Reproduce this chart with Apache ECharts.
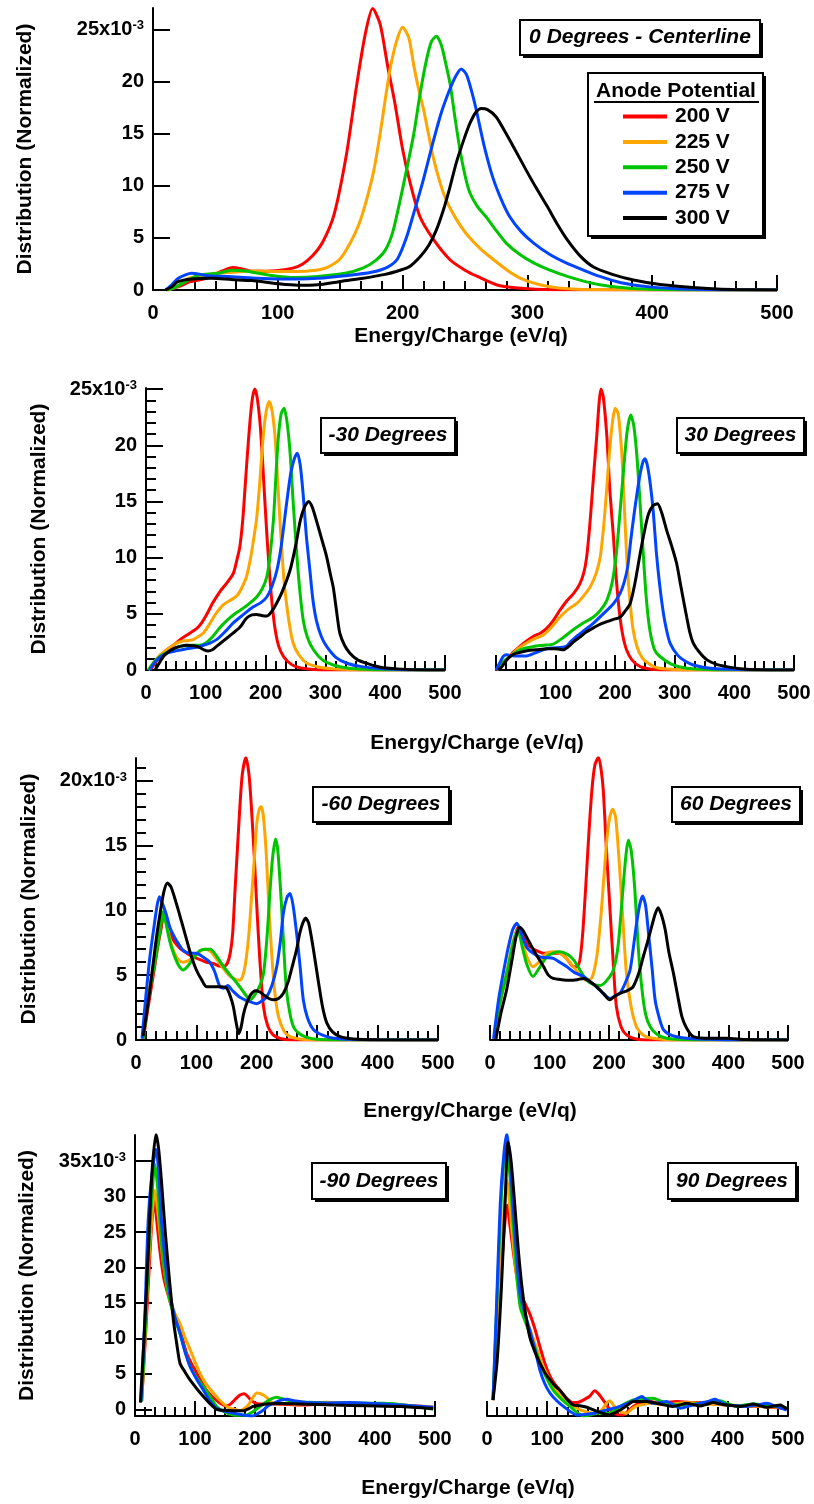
<!DOCTYPE html>
<html><head><meta charset="utf-8">
<script src="https://cdn.jsdelivr.net/npm/echarts@6/dist/echarts.min.js"></script>
<style>html,body{margin:0;padding:0;background:#fff}#c{width:814px;height:1504px}</style>
</head><body><div id="c"></div>
<script>
const seriesNames = ['200 V','225 V','250 V','275 V','300 V'];
const colors = ['#ff0000','#ffa500','#00c400','#0044ff','#000000'];
const panelTitles = ['0 Degrees - Centerline','-30 Degrees','30 Degrees','-60 Degrees','60 Degrees','-90 Degrees','90 Degrees'];
const xTickValues = [0,100,200,300,400,500];
const yTitle = 'Distribution (Normalized)';
const xTitle = 'Energy/Charge (eV/q)';
const legendTitle = 'Anode Potential';

// ---- 0 degrees (centerline) ----
const d0_200 = [[11,0],[20,0.3],[30,0.8],[42,1.1],[55,1.8],[64,2.15],[72,2.0],[80,1.8],[98,1.85],[112,2.1],[120,2.5],[128,3.3],[136,4.6],[145,7.2],[155,13],[163,19.5],[170,24.5],[176,27.0],[182,25.5],[188,21.5],[194,17.8],[200,13.5],[206,10.3],[214,7.0],[225,4.8],[238,2.9],[250,1.9],[260,1.3],[278,0.4],[300,0.12],[330,0.02],[500,0]];
const d0_225 = [[12,0],[20,0.4],[28,1.1],[40,1.4],[50,1.6],[63,1.7],[80,1.82],[100,1.78],[114,1.78],[130,1.9],[140,2.2],[150,3.0],[158,4.5],[165,6.3],[171,8.6],[177,11.5],[182,15],[186,18.2],[190,21.2],[195,23.8],[200,25.2],[205,24.2],[209,21.5],[213,19.2],[217,17.2],[221,14.8],[225,12.5],[230,10.3],[235,8.6],[243,6.8],[251,5.4],[262,4.0],[273,2.9],[285,1.8],[295,1.1],[310,0.5],[325,0.2],[345,0.05],[500,0]];
const d0_250 = [[12,0],[20,0.4],[26,0.8],[36,1.4],[52,1.6],[63,1.9],[74,1.82],[95,1.4],[114,1.2],[132,1.3],[154,1.6],[168,2.1],[178,2.8],[186,3.8],[192,5.5],[198,8.6],[204,12],[209,15],[214,18.8],[219,22],[223,23.8],[227,24.35],[231,23.5],[235,21.5],[238,19.8],[242,16.5],[246,13.4],[250,11],[254,9.3],[260,8],[267,7.0],[275,5.7],[283,4.5],[294,3.4],[305,2.6],[318,1.9],[332,1.3],[345,0.85],[358,0.5],[375,0.25],[398,0.07],[430,0],[500,0]];
const d0_275 = [[10,0],[15,0.5],[20,1.1],[26,1.45],[31,1.6],[38,1.5],[44,1.37],[63,1.28],[84,1.12],[100,1.06],[116,1.06],[132,1.12],[154,1.37],[175,1.7],[188,2.2],[196,3.0],[203,5.0],[209,7.4],[216,10.3],[224,14],[231,17],[238,19.3],[243,20.6],[247,21.2],[251,20.7],[255,19.2],[259,17.3],[265,14],[272,10.9],[279,8.7],[286,7.0],[295,5.6],[305,4.5],[318,3.4],[331,2.6],[345,1.9],[358,1.3],[375,0.7],[398,0.3],[420,0.12],[440,0.05],[470,0],[500,0]];
const d0_300 = [[10,0],[15,0.3],[20,0.8],[31,1.06],[47,1.12],[63,1.0],[79,0.9],[100,0.6],[116,0.45],[132,0.5],[149,0.8],[167,1.1],[186,1.5],[198,1.9],[205,2.2],[214,3.2],[221,4.3],[227,5.75],[233,7.8],[238,9.9],[243,12.2],[249,14.4],[254,16.0],[259,17.1],[263,17.4],[268,17.3],[275,16.6],[282,15.2],[289,13.7],[299,11.5],[307,9.8],[316,8.0],[324,6.3],[332,4.8],[342,3.3],[353,2.2],[368,1.5],[385,0.96],[405,0.55],[425,0.32],[445,0.15],[465,0.05],[500,0]];

// ---- -30 degrees ----
const m30_200 = [[7,0],[15,0.6],[23,1.2],[35,1.8],[46,2.2],[57,2.7],[68,3.1],[85,3.7],[93,4.2],[101,4.9],[112,6.0],[124,7.0],[136,7.8],[146,8.6],[152,9.8],[157,11],[162,13.5],[166,16.5],[170,19.5],[174,22.2],[178,24.2],[182,25.0],[186,24.2],[191,21.8],[195,18.5],[199,14.8],[203,11.3],[207,8.3],[211,5.8],[216,3.6],[222,2.1],[230,1.2],[243,0.5],[257,0.2],[285,0.02],[300,0],[500,0]];
const m30_225 = [[4,0],[12,0.6],[23,1.3],[37,1.9],[51,2.4],[65,2.6],[79,2.7],[88,3.0],[96,3.3],[104,3.9],[113,4.7],[121,5.3],[129,5.8],[141,6.2],[152,6.6],[160,7.3],[168,8.3],[175,10],[181,12],[185,13.5],[190,16.5],[196,20.8],[201,23.0],[206,23.9],[211,23.0],[216,20.6],[220,17],[224,13.3],[228,10],[231,7.8],[235,5.9],[240,4.0],[246,2.4],[255,1.4],[269,0.6],[290,0.25],[313,0.1],[340,0.03],[360,0],[500,0]];
const m30_250 = [[4,0],[12,0.6],[23,1.2],[40,1.7],[57,2.1],[75,2.2],[90,2.2],[100,2.4],[112,3.0],[124,3.8],[135,4.4],[146,4.9],[157,5.3],[170,5.8],[185,6.5],[195,7.3],[202,8.3],[207,10],[213,13.3],[217,17],[221,20.5],[226,22.8],[231,23.3],[236,22],[241,19.3],[246,15],[252,10.4],[257,7.2],[263,4.4],[270,2.9],[280,1.8],[295,0.9],[313,0.45],[340,0.15],[369,0.06],[400,0],[500,0]];
const m30_275 = [[6,0],[15,0.7],[25,1.2],[35,1.5],[50,1.7],[68,1.9],[82,2.0],[96,2.2],[107,2.4],[118,2.7],[132,3.4],[146,4.2],[162,4.9],[179,5.6],[192,6.0],[202,6.5],[211,7.5],[219,8.9],[226,11],[235,14.8],[242,17.5],[248,18.8],[253,19.3],[258,18.2],[263,15.5],[268,12],[274,8.9],[279,6.3],[285,4.4],[293,3.0],[302,2.1],[318,1.1],[336,0.6],[360,0.3],[397,0.1],[430,0.03],[460,0],[500,0]];
const m30_300 = [[15,0],[22,0.6],[29,1.2],[37,1.6],[46,1.9],[57,2.1],[68,2.2],[80,2.15],[90,2.0],[97,1.8],[104,1.7],[111,1.8],[118,2.1],[132,2.7],[146,3.3],[157,3.8],[168,4.6],[177,4.9],[185,4.95],[193,4.85],[202,4.8],[210,5.2],[218,5.9],[228,7.0],[241,8.9],[250,11],[258,13.3],[265,14.5],[272,15.0],[278,14.5],[285,13.3],[293,11.8],[302,10.1],[308,8.6],[313,7.4],[318,5.5],[324,3.3],[332,2.2],[341,1.5],[354,0.9],[369,0.6],[383,0.35],[397,0.2],[420,0.1],[453,0.02],[500,0]];

// ---- 30 degrees ----
const p30_200 = [[0,0],[8,0.3],[18,0.9],[29,1.6],[40,2.1],[52,2.6],[63,3.0],[75,3.3],[85,3.7],[96,4.4],[107,5.3],[118,6.1],[130,6.8],[140,7.6],[147,8.6],[152,10],[158,13.3],[164,17.5],[169,20.8],[173,23.8],[176,25.0],[180,24.3],[186,20.8],[191,16],[197,11.9],[202,8],[208,4.7],[213,3.0],[219,1.8],[228,0.9],[242,0.3],[265,0.05],[300,0],[500,0]];
const p30_225 = [[1,0],[10,0.6],[23,1.2],[37,1.9],[51,2.4],[65,2.8],[79,3.1],[93,3.8],[107,4.7],[121,5.4],[135,5.9],[147,6.6],[158,7.4],[168,8.6],[175,10.1],[181,13],[186,16.3],[191,19.8],[196,22.3],[200,23.3],[205,22.8],[211,19.3],[215,15],[219,10.4],[224,6.6],[230,3.6],[237,2.0],[245,1.1],[253,0.7],[270,0.2],[297,0.05],[330,0],[500,0]];
const p30_250 = [[1,0],[10,0.6],[23,1.2],[40,1.8],[63,2.1],[80,2.2],[96,2.3],[113,2.9],[130,3.6],[147,4.2],[163,4.7],[175,5.3],[186,6.2],[195,7.8],[202,10.4],[208,14],[214,17.8],[220,21.2],[226,22.7],[231,21.8],[236,19.3],[241,15.5],[247,10.4],[252,6.5],[258,3.6],[266,1.8],[275,1.2],[295,0.5],[320,0.15],[360,0.03],[400,0],[500,0]];
const p30_275 = [[0,0],[6,0.6],[12,1.2],[18,1.35],[24,1.3],[35,1.25],[51,1.25],[65,1.5],[79,1.8],[93,1.95],[107,2.0],[118,2.1],[125,2.5],[135,3.0],[150,3.6],[163,4.15],[180,5.0],[197,5.9],[208,6.8],[215,7.8],[221,9.2],[226,11.5],[231,13.6],[236,15.5],[242,17.5],[247,18.6],[250,18.8],[254,18.2],[259,16.5],[264,14],[269,10.5],[275,7.4],[281,5.0],[286,3.6],[292,2.4],[305,1.3],[317,0.8],[331,0.45],[360,0.15],[398,0.06],[430,0],[500,0]];
const p30_300 = [[4,0],[10,0.3],[18,0.9],[26,1.3],[35,1.5],[50,1.7],[68,1.8],[85,1.9],[96,1.9],[106,1.85],[113,1.8],[122,2.1],[130,2.5],[140,2.9],[152,3.4],[165,3.8],[176,4.1],[186,4.3],[197,4.5],[208,4.7],[216,5.2],[225,5.9],[233,7.7],[242,10.4],[250,12.6],[256,13.9],[263,14.6],[271,14.8],[278,14.0],[286,12.5],[295,11],[303,9.5],[310,7.5],[316,5.8],[320,4.7],[325,3.4],[331,2.4],[341,1.6],[354,0.9],[370,0.5],[387,0.3],[410,0.12],[443,0.02],[500,0]];

// ---- -60 degrees ----
const m60_200 = [[12,0.1],[20,2.5],[29,5.1],[36,7.2],[42,8.7],[46,9.8],[50,9.3],[56,8.3],[62,7.7],[72,7.1],[84,6.7],[95,6.4],[106,6.2],[117,6.0],[128,5.9],[138,5.7],[145,5.65],[151,5.9],[156,6.7],[160,8.2],[164,11.6],[168,14.8],[172,18],[176,20.5],[182,21.8],[187,20.5],[191,18],[196,14],[200,10.3],[205,6.2],[211,2.6],[218,1.1],[227,0.4],[240,0.1],[260,0],[500,0]];
const m60_225 = [[12,0.1],[22,3.8],[31,6.4],[38,8.5],[45,9.9],[50,9.1],[56,7.8],[62,6.9],[70,6.2],[78,6.0],[86,6.1],[95,6.4],[105,6.8],[114,7.0],[124,6.8],[134,6.2],[145,5.5],[156,4.9],[164,4.7],[172,4.6],[179,5.3],[186,7.7],[191,10.8],[196,14],[200,16.7],[204,17.8],[207,18.0],[211,17.2],[216,14.1],[220,10.2],[225,6.4],[230,3.6],[236,1.8],[245,0.7],[255,0.26],[275,0.05],[300,0],[500,0]];
const m60_250 = [[12,0.1],[22,3.6],[34,6.7],[40,8.5],[45,9.9],[50,8.9],[56,7.6],[62,6.7],[70,5.8],[78,5.4],[84,5.6],[89,5.9],[98,6.5],[106,6.9],[115,7.0],[123,7.0],[133,6.5],[145,5.65],[156,5.0],[167,4.4],[178,3.7],[189,3.1],[197,3.5],[205,4.2],[211,5.1],[217,8],[222,11.6],[226,14],[231,15.5],[235,14.5],[241,10.3],[245,6.8],[249,3.9],[255,2.0],[261,1.0],[270,0.5],[283,0.2],[300,0.05],[330,0],[500,0]];
const m60_275 = [[10,0.1],[16,3.2],[23,6.4],[30,8.8],[35,10.4],[39,11.05],[44,10.5],[50,9.7],[56,8.7],[64,7.9],[72,7.3],[78,6.9],[89,6.7],[100,6.7],[111,6.4],[122,6.0],[130,5.3],[139,4.1],[145,4.0],[152,4.2],[160,3.8],[172,3.3],[186,3.0],[200,2.8],[208,3.0],[216,3.3],[225,4.2],[233,5.65],[239,7.6],[244,9.8],[250,11.0],[255,11.3],[260,10.4],[266,8.2],[272,5.5],[277,3.1],[284,1.7],[294,0.8],[310,0.35],[327,0.13],[360,0.03],[400,0],[500,0]];
const m60_300 = [[12,0.3],[18,2.2],[23,3.9],[30,6.5],[35,8.3],[40,9.8],[46,11.4],[52,12.1],[58,11.8],[67,10.5],[75,9.2],[84,7.7],[92,6.4],[100,5.4],[108,4.7],[117,4.1],[125,4.1],[134,4.1],[142,4.1],[150,4.0],[156,3.4],[161,2.6],[166,1.3],[170,0.5],[174,1.0],[178,2.0],[183,2.8],[190,3.5],[198,3.8],[205,3.7],[211,3.5],[220,3.2],[227,3.1],[236,3.2],[244,3.6],[252,4.5],[260,5.9],[266,7.0],[271,8.2],[276,9.0],[281,9.4],[286,9.0],[293,7.2],[299,5.4],[305,3.6],[310,2.3],[316,1.3],[325,0.65],[338,0.26],[360,0.08],[400,0.02],[500,0]];

// ---- 60 degrees ----
const p60_200 = [[8,0.1],[15,2.5],[22,4.0],[28,5.1],[35,6.5],[42,8.0],[47,8.7],[53,8.3],[60,7.6],[67,7.2],[78,6.9],[89,6.7],[100,6.7],[117,6.7],[130,6.2],[140,5.65],[147,5.7],[151,6.2],[156,8.5],[162,12.9],[166,16],[171,19.3],[176,21.2],[182,21.8],[186,21],[190,19.3],[195,15],[201,10.3],[207,5.8],[212,2.6],[220,1.0],[229,0.4],[245,0.08],[270,0],[500,0]];
const p60_225 = [[8,0.1],[15,2.5],[28,5.1],[38,7.5],[47,8.5],[54,7.6],[62,6.4],[72,5.65],[82,6.0],[95,6.7],[105,6.8],[117,6.7],[130,6.2],[140,5.65],[151,5.0],[162,4.6],[171,4.8],[179,6.4],[186,9.5],[191,12.5],[196,15.4],[201,17.2],[206,17.8],[211,17.1],[218,12.9],[224,8.5],[229,5.1],[237,2.5],[246,1.0],[258,0.35],[274,0.13],[300,0.02],[330,0],[500,0]];
const p60_250 = [[8,0.1],[15,2.5],[28,5.1],[38,7.3],[47,8.5],[54,7.2],[62,5.8],[72,4.9],[82,5.5],[95,6.4],[106,6.7],[117,6.8],[130,6.6],[140,6.2],[151,5.4],[162,4.6],[173,4.3],[185,4.2],[196,4.6],[207,5.4],[215,7.3],[223,11.6],[228,14.2],[232,15.4],[237,14.6],[243,11.6],[249,7.0],[255,3.9],[261,2.0],[269,1.0],[280,0.45],[296,0.13],[330,0.02],[360,0],[500,0]];
const p60_275 = [[6,0.1],[14,3.0],[22,5.1],[30,7.0],[38,8.5],[45,9.0],[52,8.3],[61,7.2],[72,6.7],[84,6.4],[95,6.35],[106,6.3],[117,6.0],[129,5.65],[142,5.2],[157,4.9],[168,4.5],[179,4.1],[190,3.6],[201,3.2],[210,3.4],[218,3.6],[226,4.3],[235,5.4],[241,7.3],[246,9.0],[251,10.4],[256,11.1],[261,10.4],[266,8.2],[272,5.5],[277,3.1],[284,1.7],[291,0.8],[305,0.35],[330,0.13],[370,0.05],[400,0],[500,0]];
const p60_300 = [[10,0.1],[18,2.0],[28,3.9],[37,6.2],[44,8.0],[50,8.7],[56,8.4],[63,7.8],[70,7.2],[80,6.4],[90,5.65],[98,5.0],[106,4.75],[120,4.65],[134,4.6],[146,4.65],[157,4.75],[168,4.5],[179,4.1],[190,3.6],[201,3.1],[210,3.4],[218,3.6],[230,3.8],[240,4.1],[250,5.2],[257,6.4],[264,7.5],[271,8.7],[277,9.7],[282,10.2],[288,9.6],[294,8.5],[300,6.8],[308,5.1],[315,3.4],[322,1.8],[330,0.9],[341,0.26],[369,0.13],[397,0.13],[430,0.03],[500,0]];

// ---- -90 degrees ----
const m90_200 = [[11,1.1],[16,8],[22,17.3],[27,25],[32,29.5],[37,26],[42,22],[48,18.5],[56,15.9],[63,14],[70,12.6],[78,10.3],[86,7.9],[95,6.3],[103,5.1],[111,3.8],[119,2.7],[130,1.7],[142,0.85],[153,0.47],[160,0.8],[167,1.4],[175,2.0],[182,2.2],[188,1.8],[193,1.3],[200,0.9],[208,0.75],[236,0.75],[275,0.6],[330,0.85],[386,0.75],[442,0.6],[497,0.3]];
const m90_225 = [[11,1.1],[16,9],[22,19.6],[28,27],[33,30.9],[38,28],[44,22.9],[51,18.5],[58,15.4],[66,13.6],[75,12.1],[83,10.2],[92,8.4],[100,6.7],[108,5.1],[119,3.5],[131,2.25],[142,1.2],[153,0.4],[165,0],[175,-0.2],[182,0.1],[189,0.6],[196,1.6],[203,2.3],[208,2.25],[214,2.0],[220,1.6],[226,1.1],[231,0.85],[250,0.8],[275,0.75],[319,1.0],[350,0.85],[386,0.75],[442,0.55],[497,0.3]];
const m90_250 = [[11,1.1],[17,11],[24,24.3],[29,31],[33,34.6],[38,31],[44,23.4],[51,18.5],[58,15.4],[66,12.8],[75,10.7],[83,8.3],[92,6.0],[103,4.4],[114,3.2],[125,1.8],[136,0.4],[150,-0.4],[164,-0.8],[176,-0.85],[186,-0.8],[197,-0.3],[208,0.4],[218,1.0],[228,1.5],[236,1.7],[245,1.5],[264,1.1],[300,0.95],[331,0.85],[370,0.85],[414,0.85],[460,0.5],[497,0.0]];
const m90_275 = [[10,1.1],[16,12],[22,26.7],[28,33],[35,36.7],[40,33],[44,26.7],[51,20.5],[58,16.3],[66,13.2],[75,10.7],[83,8.2],[92,6.0],[103,4.2],[114,2.7],[125,1.2],[136,0.14],[150,-0.3],[164,-0.56],[180,-0.8],[197,-0.94],[205,-0.6],[214,-0.1],[222,0.5],[231,0.85],[242,1.25],[253,1.4],[265,1.2],[286,0.94],[320,0.9],[358,0.94],[400,0.8],[442,0.6],[497,0.3]];
const m90_300 = [[9,0.94],[15,10],[22,22],[28,33],[35,38.8],[39,37],[44,32.3],[50,25.5],[56,19.6],[64,12.6],[70,9],[75,6.5],[83,5.3],[92,4.1],[103,2.9],[114,1.8],[125,0.8],[136,0],[150,-0.15],[164,-0.2],[181,-0.2],[190,0.1],[197,0.4],[208,0.6],[219,0.75],[245,0.8],[275,0.75],[331,0.6],[386,0.5],[442,0.4],[497,0.1]];

// ---- 90 degrees ----
const p90_200 = [[10,1.3],[17,10],[24,19.6],[30,26.5],[34,28.8],[38,26],[44,22],[50,18.5],[58,15.9],[65,14.6],[71,13.5],[79,11.5],[88,8.8],[96,6.5],[105,4.6],[113,3.5],[121,2.7],[132,1.6],[143,0.94],[152,1.0],[160,1.3],[170,1.8],[179,2.6],[186,2.1],[193,1.3],[202,0.2],[210,-0.56],[226,-0.8],[235,-0.2],[243,0.4],[254,0.9],[265,1.2],[287,0.85],[300,1.0],[315,1.1],[343,0.94],[370,0.85],[398,0.6],[426,0.47],[454,0.4],[498,0.14]];
const p90_225 = [[10,1.3],[17,11],[24,22],[29,29],[33,32.3],[38,28.5],[44,22.9],[51,17.5],[58,14.5],[66,12.5],[74,10.7],[83,8.5],[91,6.5],[100,4.8],[110,3.2],[121,2.0],[132,1.1],[143,0.5],[155,-0.1],[166,-0.4],[177,-0.56],[187,-0.3],[193,0.14],[199,0.9],[204,1.2],[209,0.7],[215,0],[224,-0.4],[232,-0.56],[240,0],[249,0.47],[260,0.7],[271,0.85],[298,0.6],[315,0.8],[332,0.94],[365,0.75],[398,0.6],[442,0.47],[498,0.2]];
const p90_250 = [[10,1.3],[16,14],[22,26.7],[27,34],[32,37],[37,34],[43,26.7],[49,19.5],[55,14.5],[63,12.5],[71,10.7],[80,8.6],[88,6.5],[99,4.4],[110,2.7],[124,1.4],[138,0.4],[150,-0.5],[160,-0.94],[171,-0.8],[182,-0.56],[193,-0.56],[204,-0.56],[212,-0.1],[221,0.4],[232,0.9],[243,1.3],[260,1.5],[276,1.55],[287,1.2],[298,0.85],[310,0.7],[321,0.6],[337,0.7],[354,0.85],[370,1.0],[387,1.2],[400,0.8],[415,0.4],[428,0.6],[442,0.75],[470,0.5],[498,0.2]];
const p90_275 = [[10,1.3],[16,15],[22,29],[28,36],[33,38.9],[38,35.5],[43,29],[49,22],[55,16.3],[63,13.5],[71,11.2],[80,8.3],[88,5.5],[96,3.6],[105,2.25],[116,1.2],[127,0.4],[138,-0.3],[149,-0.8],[163,-0.75],[177,-0.56],[199,-0.1],[221,0.4],[232,0.8],[243,1.2],[250,1.55],[257,1.8],[265,1.3],[276,0.85],[287,0.95],[298,1.1],[310,0.6],[321,0.14],[337,0.5],[354,0.85],[367,1.1],[379,1.4],[388,1.0],[398,0.6],[415,0.5],[431,0.4],[448,0.6],[465,0.85],[480,0.4],[498,-0.1]];
const p90_300 = [[10,1.3],[17,7],[24,17.3],[30,29],[35,37.7],[40,35],[46,29],[52,22.5],[58,17.3],[64,13.5],[71,10.2],[80,8.0],[88,6.5],[96,5.2],[105,4.1],[113,3.3],[121,2.7],[132,1.5],[143,0.6],[154,0.5],[166,0.28],[177,-0.1],[188,-0.47],[204,-0.8],[212,-0.5],[221,-0.1],[232,0.5],[243,1.1],[265,1.1],[287,0.75],[298,0.55],[309,0.4],[320,0.6],[332,0.85],[343,0.65],[354,0.47],[365,0.7],[376,0.94],[387,0.75],[398,0.6],[409,0.5],[420,0.4],[431,0.55],[442,0.75],[453,0.5],[465,0.28],[476,0.45],[487,0.6],[498,0]];

const panelData = [
  [d0_200, d0_225, d0_250, d0_275, d0_300],
  [m30_200, m30_225, m30_250, m30_275, m30_300],
  [p30_200, p30_225, p30_250, p30_275, p30_300],
  [m60_200, m60_225, m60_250, m60_275, m60_300],
  [p60_200, p60_225, p60_250, p60_275, p60_300],
  [m90_200, m90_225, m90_250, m90_275, m90_300],
  [p90_200, p90_225, p90_250, p90_275, p90_300]
];

// ---- layout (positions / styles) ----
const FONT = '"Liberation Sans", Arial, sans-serif';
const layout = [
  {left:153, top:8,    width:624, height:282, ymin:0,     ymax:27.05, yTop:25, yShow:true,  minorY:false, nameGap:117, hide0:false},
  {left:146, top:388,  width:299, height:282, ymin:0,     ymax:25.1,  yTop:25, yShow:true,  minorY:true,  nameGap:96,  hide0:false},
  {left:496, top:388,  width:298, height:282, ymin:0,     ymax:25.1,  yShow:false, hide0:true},
  {left:136, top:758,  width:302, height:282, ymin:0,     ymax:21.75, yTop:20, yShow:true,  minorY:true,  nameGap:96,  hide0:false},
  {left:490, top:758,  width:298, height:282, ymin:0,     ymax:21.75, yShow:false, hide0:false},
  {left:135, top:1135, width:300, height:281, ymin:-0.95, ymax:38.7,  yTop:35, yShow:true,  minorY:false, nameGap:97,  hide0:false},
  {left:487, top:1135, width:301, height:281, ymin:-0.95, ymax:38.7,  yShow:false, hide0:false}
];
const boxes = [[520,20,240,35],[321,418,134,35],[677,418,127,35],[313,787,136,35],[672,787,128,35],[312,1163,134,36],[668,1163,128,36]];
const xTitlePos = [[461,336],[477,743],[470,1111],[468,1488]];

const grids = [], xAxes = [], yAxes = [], series = [];
const axisLineStyle = {color:'#000', width:2};
layout.forEach((L, p) => {
  grids.push({left:L.left, top:L.top, width:L.width, height:L.height, containLabel:false});
  xAxes.push({
    type:'value', gridIndex:p, min:0, max:500, interval:100,
    axisLine:{show:true, onZero:false, lineStyle:axisLineStyle},
    axisTick:{show:true, inside:true, length:15, lineStyle:axisLineStyle},
    minorTick:{show:true, splitNumber:6, length:9, lineStyle:axisLineStyle},
    axisLabel:{show:true, margin:13, fontSize:20, fontWeight:'bold', color:'#000', fontFamily:FONT,
      formatter: v => (L.hide0 && v === 0) ? '' : String(v)},
    splitLine:{show:false}
  });
  const yIdx = yAxes.length;
  if (L.yShow) {
    const tv = [];
    for (let v = 0; v <= L.yTop; v += 5) tv.push(v);
    yAxes.push({
      type:'value', gridIndex:p, min:L.ymin, max:L.ymax, position:'left',
      axisLine:{show:true, onZero:false, lineStyle:axisLineStyle},
      axisTick:{show:true, inside:true, length:17, lineStyle:axisLineStyle, customValues:tv},
      axisLabel:{show:true, margin:9, customValues:tv,
        formatter: v => v === L.yTop ? '{m|' + v + 'x10}{e|-3}' : '{m|' + v + '}',
        rich:{
          m:{fontSize:20, fontWeight:'bold', color:'#000', fontFamily:FONT, lineHeight:20, verticalAlign:'bottom'},
          e:{fontSize:13, fontWeight:'bold', color:'#000', fontFamily:FONT, lineHeight:13, verticalAlign:'top', padding:[0,0,11,0]}
        }},
      splitLine:{show:false},
      name: yTitle, nameLocation:'middle', nameGap:L.nameGap,
      nameTextStyle:{fontSize:21, fontWeight:'bold', color:'#000', fontFamily:FONT}
    });
    if (L.minorY) {
      const mv = [];
      for (let v = 1; v <= Math.floor(L.ymax); v++) if (v % 5) mv.push(v);
      yAxes.push({
        type:'value', gridIndex:p, min:L.ymin, max:L.ymax, position:'left', offset:0,
        axisLine:{show:false}, axisLabel:{show:false}, splitLine:{show:false},
        axisTick:{show:true, inside:true, length:10, lineStyle:axisLineStyle, customValues:mv}
      });
    }
  } else {
    yAxes.push({type:'value', gridIndex:p, min:L.ymin, max:L.ymax, show:false, splitLine:{show:false}});
  }
  panelData[p].forEach((d, s) => {
    series.push({
      type:'line', name:seriesNames[s], xAxisIndex:p, yAxisIndex:yIdx, data:d,
      showSymbol:false, symbol:'none', smooth:0.25, silent:true, z:2+s,
      lineStyle:{width:3, color:colors[s]}, itemStyle:{color:colors[s]}
    });
  });
});

const graphic = [];
boxes.forEach((b, i) => {
  graphic.push({type:'rect', z:100, shape:{x:b[0]+3, y:b[1]+3, width:b[2], height:b[3]}, style:{fill:'#000'}});
  graphic.push({type:'rect', z:101, shape:{x:b[0], y:b[1], width:b[2], height:b[3]}, style:{fill:'#fff', stroke:'#000', lineWidth:2}});
  graphic.push({type:'text', z:102, x:b[0]+b[2]/2, y:b[1]+b[3]/2,
    style:{text:panelTitles[i], fill:'#000', font:'italic bold 21px ' + FONT, textAlign:'center', textVerticalAlign:'middle'}});
});
// legend box
graphic.push({type:'rect', z:100, shape:{x:591, y:76, width:175, height:163}, style:{fill:'#000'}});
graphic.push({type:'rect', z:101, shape:{x:588, y:73, width:175, height:163}, style:{fill:'#fff', stroke:'#000', lineWidth:2}});
graphic.push({type:'text', z:102, x:676, y:91, style:{text:legendTitle, fill:'#000', font:'bold 21px ' + FONT, textAlign:'center', textVerticalAlign:'middle'}});
graphic.push({type:'line', z:102, shape:{x1:594, y1:102, x2:759, y2:102}, style:{stroke:'#000', lineWidth:2}});
xTitlePos.forEach(pt => {
  graphic.push({type:'text', z:102, x:pt[0], y:pt[1], style:{text:xTitle, fill:'#000', font:'bold 21px ' + FONT, textAlign:'center', textVerticalAlign:'middle'}});
});

const chart = echarts.init(document.getElementById('c'), null, {renderer:'canvas'});
chart.setOption({
  animation:false,
  backgroundColor:'#fff',
  grid:grids, xAxis:xAxes, yAxis:yAxes, series:series,
  legend:{
    data:seriesNames, orient:'vertical', left:623, top:106, padding:0,
    itemWidth:44, itemHeight:4, itemGap:4.4, icon:'rect', selectedMode:false, z:110,
    textStyle:{fontSize:21, fontWeight:'bold', color:'#000', fontFamily:FONT, lineHeight:21, padding:[0,0,0,3]}
  },
  graphic:graphic
});
</script>
</body></html>
